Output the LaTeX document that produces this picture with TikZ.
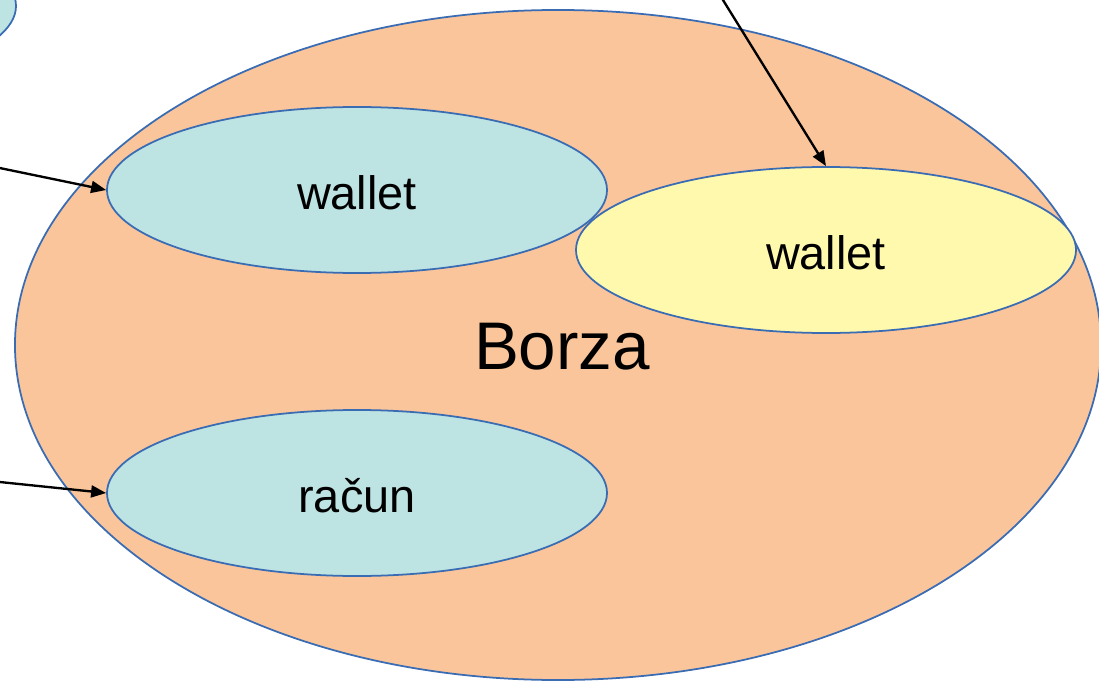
\documentclass[tikz,border=0pt]{standalone}
\usepackage{fontspec}
\setmainfont{Liberation Sans}
\usetikzlibrary{shapes.geometric,arrows.meta}

\definecolor{exchfill}{HTML}{FAC59A}
\definecolor{tealfill}{HTML}{BDE3E3}
\definecolor{yelfill}{HTML}{FFF9AE}
\definecolor{edgeblue}{HTML}{3A6CB4}

\tikzset{
  blob/.style={ellipse, draw=edgeblue, line width=1.5pt, inner sep=0pt},
  pocket/.style={blob, minimum width=15cm, minimum height=4.98cm},
  walletlabel/.style={font=\fontsize{40}{48}\selectfont, inner sep=0pt},
  biglabel/.style={font=\fontsize{57.5}{68}\selectfont, inner sep=0pt},
  feed/.style={draw=black, line width=2pt, -{Triangle[length=0.45cm, width=0.36cm]}}
}

\begin{document}
\begin{tikzpicture}[x=0.03cm, y=-0.03cm]
  \useasboundingbox (0,0) rectangle (1099,681);
  \clip (0,0) rectangle (1099,681);

  % partial teal shape peeking in at the top left
  \node[pocket, fill=tealfill] (corner) at (-234,6) {};

  % the exchange
  \node[blob, fill=exchfill, minimum width=32.58cm, minimum height=20.1cm] (borza) at (558,345) {};
  \node[biglabel] (borzatext) at (562,347) {Borza};

  % accounts held at the exchange
  \node[pocket, fill=tealfill] (w1) at (357,190) {};
  \node[walletlabel] (w1text) at (357,193) {wallet};

  \node[pocket, fill=yelfill] (w2) at (826,250) {};
  \node[walletlabel] (w2text) at (826,253) {wallet};

  \node[pocket, fill=tealfill] (acc) at (357,493) {};
  \node[walletlabel] (acctext) at (357,496) {račun};

  % incoming connectors
  \coordinate (in1) at (-10,166);
  \coordinate (in2) at (-10,481);
  \coordinate (in3) at (718,-8);
  \draw[feed] (in1) -- (w1.west);
  \draw[feed] (in2) -- (acc.west);
  \draw[feed] (in3) -- (w2.north);
\end{tikzpicture}
\end{document}
